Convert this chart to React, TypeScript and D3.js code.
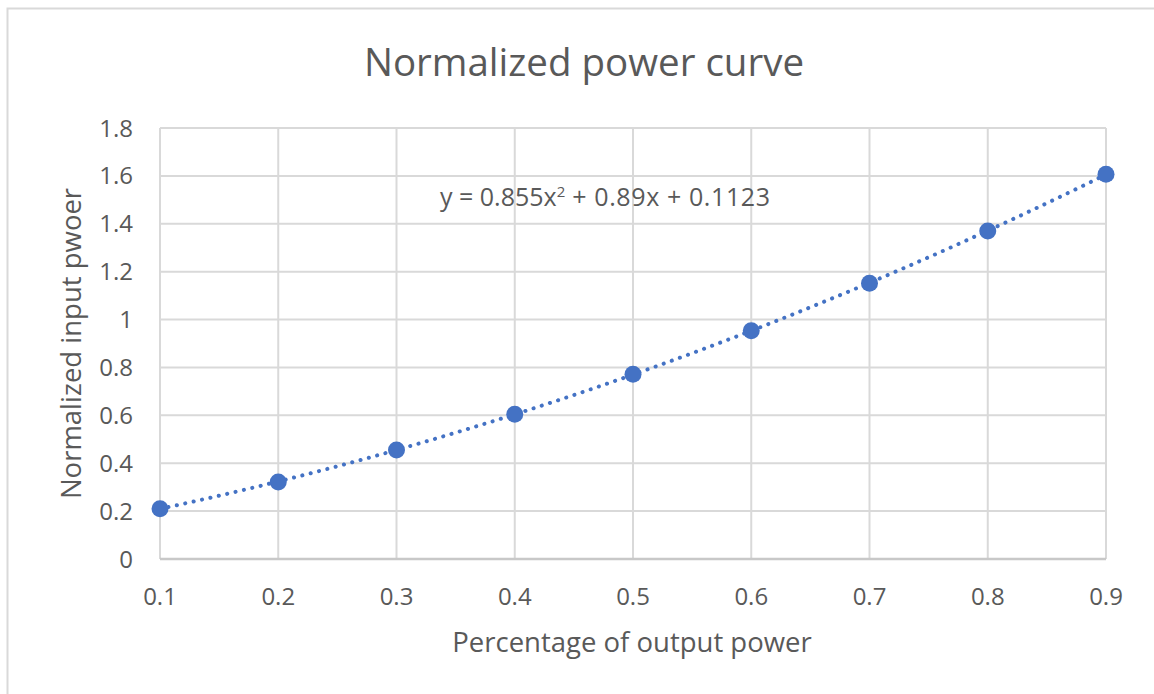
import { useEffect, useRef } from 'react';
import * as d3 from 'd3';

const outputShare = [0.1, 0.2, 0.3, 0.4, 0.5, 0.6, 0.7, 0.8, 0.9];
const inputPower = [0.21, 0.322, 0.455, 0.605, 0.772, 0.953, 1.152, 1.37, 1.607];
const xTicks = [0.1, 0.2, 0.3, 0.4, 0.5, 0.6, 0.7, 0.8, 0.9];
const yTicks = [0, 0.2, 0.4, 0.6, 0.8, 1, 1.2, 1.4, 1.6, 1.8];

const CHART_TITLE = 'Normalized power curve';
const X_TITLE = 'Percentage of output power';
const Y_TITLE = 'Normalized input pwoer';
const TREND_LABEL = ['y = 0.855x', '2', ' + 0.89x + 0.1123'];

const WIDTH = 1154;
const HEIGHT = 694;
const BLUE = '#4472c4';
const GRID = '#d9d9d9';
const TEXT = '#595959';
const FONT = '"Open Sans", "Noto Sans", sans-serif';

// least squares quadratic, same as the spreadsheet's polynomial trendline
const fitQuadratic = (xs: number[], ys: number[]): [number, number, number] => {
    const s = (p: number, q = 0) => d3.sum(xs, (x, i) => x ** p * (q ? ys[i] : 1));
    const m = [
        [s(4), s(3), s(2), s(2, 1)],
        [s(3), s(2), s(1), s(1, 1)],
        [s(2), s(1), xs.length, s(0, 1)],
    ];
    for (let c = 0; c < 3; c++) {
        for (let r = c + 1; r < 3; r++) {
            const f = m[r][c] / m[c][c];
            for (let k = c; k < 4; k++) m[r][k] -= f * m[c][k];
        }
    }
    const out = [0, 0, 0];
    for (let r = 2; r >= 0; r--) {
        let v = m[r][3];
        for (let k = r + 1; k < 3; k++) v -= m[r][k] * out[k];
        out[r] = v / m[r][r];
    }
    return [out[0], out[1], out[2]];
};

export default function App() {
    const svgRef = useRef<SVGSVGElement | null>(null);

    useEffect(() => {
        if (!svgRef.current) return;
        const svg = d3.select(svgRef.current);
        svg.selectAll('*').remove();

        const plot = { left: 160, right: 1106, top: 128, bottom: 559 };
        const x = d3.scaleLinear().domain([0.1, 0.9]).range([plot.left, plot.right]);
        const y = d3.scaleLinear().domain([0, 1.8]).range([plot.bottom, plot.top]);

        svg.append('rect')
            .attr('x', 7.5)
            .attr('y', 8.5)
            .attr('width', WIDTH + 20)
            .attr('height', HEIGHT + 20)
            .attr('fill', '#fff')
            .attr('stroke', GRID)
            .attr('stroke-width', 2);

        svg.append('text')
            .text(CHART_TITLE)
            .attr('x', 584)
            .attr('y', 76)
            .attr('text-anchor', 'middle')
            .attr('font-family', FONT)
            .attr('font-size', 38.5)
            .attr('fill', TEXT);

        const grid = svg.append('g').attr('stroke', GRID).attr('stroke-width', 2);
        grid.selectAll('line.h')
            .data(yTicks)
            .join('line')
            .attr('class', 'h')
            .attr('x1', plot.left)
            .attr('x2', plot.right)
            .attr('y1', (d) => y(d))
            .attr('y2', (d) => y(d));
        grid.selectAll('line.v')
            .data(xTicks)
            .join('line')
            .attr('class', 'v')
            .attr('x1', (d) => x(d))
            .attr('x2', (d) => x(d))
            .attr('y1', plot.top)
            .attr('y2', plot.bottom);

        svg.append('line')
            .attr('x1', plot.left)
            .attr('x2', plot.right)
            .attr('y1', y(0))
            .attr('y2', y(0))
            .attr('stroke', '#c8c8c8')
            .attr('stroke-width', 2.5);

        svg.append('g')
            .selectAll('text')
            .data(yTicks)
            .join('text')
            .text((d) => d3.format('~g')(d))
            .attr('x', 133)
            .attr('y', (d) => y(d) + 8.5)
            .attr('text-anchor', 'end')
            .attr('font-family', FONT)
            .attr('font-size', 24)
            .attr('fill', TEXT);

        svg.append('g')
            .selectAll('text')
            .data(xTicks)
            .join('text')
            .text((d) => d3.format('.1f')(d))
            .attr('x', (d) => x(d))
            .attr('y', 605)
            .attr('text-anchor', 'middle')
            .attr('font-family', FONT)
            .attr('font-size', 24)
            .attr('fill', TEXT);

        svg.append('text')
            .text(X_TITLE)
            .attr('x', 632)
            .attr('y', 652)
            .attr('text-anchor', 'middle')
            .attr('font-family', FONT)
            .attr('font-size', 27.5)
            .attr('fill', TEXT);

        svg.append('text')
            .text(Y_TITLE)
            .attr('transform', `translate(81, ${(plot.top + plot.bottom) / 2}) rotate(-90)`)
            .attr('text-anchor', 'middle')
            .attr('font-family', FONT)
            .attr('font-size', 27.5)
            .attr('fill', TEXT);

        const [a, b, c] = fitQuadratic(outputShare, inputPower);
        const curve = d3.range(0.1, 0.9001, 0.01).map((v) => [x(v), y(a * v * v + b * v + c)] as [number, number]);
        svg.append('path')
            .attr('d', d3.line()(curve))
            .attr('fill', 'none')
            .attr('stroke', BLUE)
            .attr('stroke-width', 4)
            .attr('stroke-linecap', 'round')
            .attr('stroke-dasharray', '0.1 8.5');

        svg.append('g')
            .selectAll('circle')
            .data(outputShare)
            .join('circle')
            .attr('cx', (d) => x(d))
            .attr('cy', (_, i) => y(inputPower[i]))
            .attr('r', 8.5)
            .attr('fill', BLUE);

        const label = svg.append('text')
            .attr('x', 440)
            .attr('y', 206)
            .attr('font-family', FONT)
            .attr('font-size', 25)
            .attr('fill', TEXT);
        label.append('tspan').text(TREND_LABEL[0]);
        label.append('tspan').text(TREND_LABEL[1]).attr('dy', -9).attr('font-size', 15);
        label.append('tspan').text(TREND_LABEL[2]).attr('dy', 9).attr('letter-spacing', 0.6);
    }, []);

    return (
        <div style={{ position: 'absolute', left: 0, top: 0, width: WIDTH, height: HEIGHT, background: '#fff' }}>
            <svg ref={svgRef} width={WIDTH} height={HEIGHT} role="img" aria-label="Normalized power curve" />
        </div>
    );
}
